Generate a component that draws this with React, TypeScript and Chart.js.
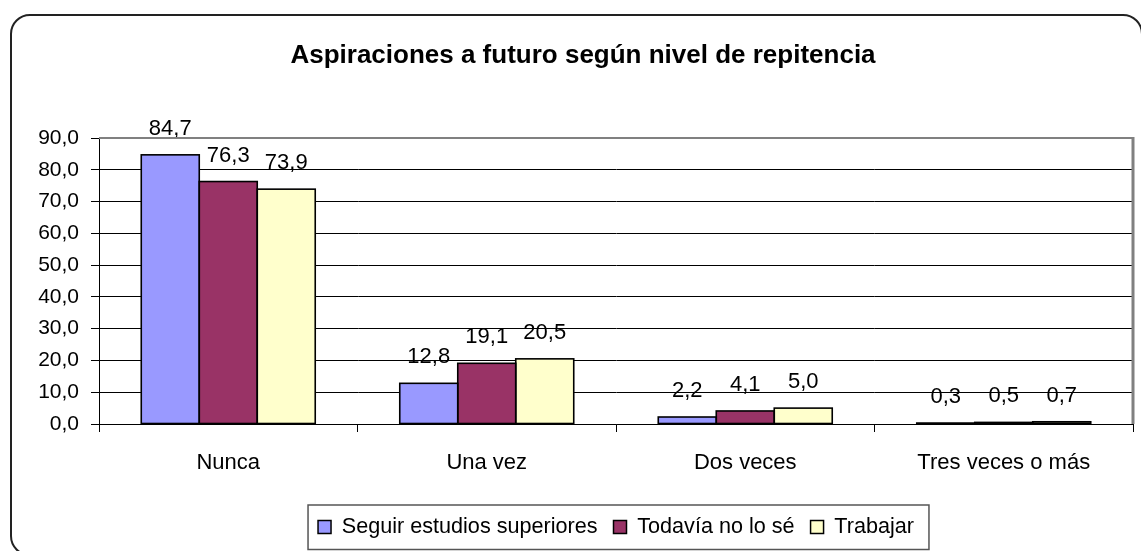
import React, { useEffect, useRef } from 'react';
import { Chart, registerables } from 'chart.js';

Chart.register(...registerables);

const TITLE = 'Aspiraciones a futuro según nivel de repitencia';
const categories = ['Nunca', 'Una vez', 'Dos veces', 'Tres veces o más'];
const seriesNames = ['Seguir estudios superiores', 'Todavía no lo sé', 'Trabajar'];
const seguirEstudios = [84.7, 12.8, 2.2, 0.3];
const todaviaNoSe = [76.3, 19.1, 4.1, 0.5];
const trabajar = [73.9, 20.5, 5.0, 0.7];
const seriesColors = ['#9999FF', '#993366', '#FFFFCC'];
const yMin = 0;
const yMax = 90;
const yStep = 10;

const FAMILY = "'Liberation Sans', Arial, Helvetica, sans-serif";
const CANVAS_LEFT = 33;
const CANVAS_W = 1141 - CANVAS_LEFT;
const CANVAS_H = 551;
const BAR_BORDER = 1.6;

const fmt = (v: number) => v.toFixed(1).replace('.', ',');

const barOutlinePlugin = {
  id: 'barOutline',
  afterDatasetsDraw(chart: any) {
    const ctx = chart.ctx;
    ctx.save();
    ctx.strokeStyle = '#000';
    ctx.lineWidth = BAR_BORDER;
    chart.data.datasets.forEach((_ds: any, di: number) => {
      const meta = chart.getDatasetMeta(di);
      meta.data.forEach((el: any) => {
        const p = el.getProps(['x', 'y', 'base', 'width'], true);
        const left = p.x - p.width / 2;
        const top = Math.min(p.y, p.base);
        const h = Math.abs(p.base - p.y);
        ctx.strokeRect(left, top, p.width, h);
      });
    });
    ctx.restore();
  },
};

const dataLabelPlugin = {
  id: 'dataLabels',
  afterDatasetsDraw(chart: any) {
    const ctx = chart.ctx;
    ctx.save();
    ctx.font = `22px ${FAMILY}`;
    ctx.fillStyle = '#000';
    ctx.textAlign = 'center';
    ctx.textBaseline = 'middle';
    chart.data.datasets.forEach((ds: any, di: number) => {
      const meta = chart.getDatasetMeta(di);
      meta.data.forEach((el: any, i: number) => {
        ctx.fillText(fmt(ds.data[i]), el.x, el.y - 26);
      });
    });
    ctx.restore();
  },
};

const framePlugin = {
  id: 'frame',
  afterDraw(chart: any) {
    const ctx = chart.ctx;
    const a = chart.chartArea;
    ctx.save();
    ctx.strokeStyle = '#808080';
    ctx.lineWidth = 2;
    ctx.beginPath();
    ctx.moveTo(a.left, a.top);
    ctx.lineTo(a.right, a.top);
    ctx.stroke();
    ctx.lineWidth = 3;
    ctx.beginPath();
    ctx.moveTo(a.right, a.top - 1);
    ctx.lineTo(a.right, a.bottom);
    ctx.stroke();
    const hb = chart.legend && chart.legend.legendHitBoxes;
    if (hb && hb.length) {
      const first = hb[0];
      const last = hb[hb.length - 1];
      const cy = first.top + first.height / 2;
      const x0 = first.left - 10;
      const x1 = last.left + last.width + 15;
      const y0 = cy - 22;
      const y1 = cy + 22.5;
      ctx.strokeStyle = '#555';
      ctx.lineWidth = 1.5;
      ctx.strokeRect(x0, y0, x1 - x0, y1 - y0);
    }
    ctx.restore();
  },
};

export default function App() {
  const ref = useRef<HTMLCanvasElement>(null);

  useEffect(() => {
    const canvas = ref.current;
    if (!canvas) return;
    const values = [seguirEstudios, todaviaNoSe, trabajar];
    const chart = new Chart(canvas, {
      type: 'bar',
      data: {
        labels: categories,
        datasets: seriesNames.map((name, i) => ({
          label: name,
          data: values[i],
          backgroundColor: seriesColors[i],
          borderColor: '#000',
          borderWidth: 0,
          categoryPercentage: 0.673,
          barPercentage: 1,
        })),
      },
      options: {
        responsive: false,
        animation: false,
        devicePixelRatio: 1,
        layout: { padding: { left: 0, right: 8, top: 0, bottom: 3.2 } },
        plugins: {
          title: {
            display: true,
            text: TITLE,
            color: '#000',
            font: { family: FAMILY, size: 26, weight: 'bold' },
            padding: { top: 40.4, bottom: 66.4 },
          },
          legend: {
            position: 'bottom',
            fullSize: false,
            labels: {
              color: '#000',
              font: { family: FAMILY, size: 21.6 },
              boxWidth: 13,
              boxHeight: 13,
              padding: 16,
              generateLabels: (chart: any) =>
                chart.data.datasets.map((ds: any, i: number) => ({
                  text: ds.label,
                  fillStyle: ds.backgroundColor,
                  strokeStyle: '#000',
                  lineWidth: 1.5,
                  fontColor: '#000',
                  hidden: false,
                  datasetIndex: i,
                })),
            },
          },
          tooltip: { enabled: false },
        },
        scales: {
          x: {
            grid: {
              display: true,
              drawOnChartArea: false,
              drawTicks: true,
              tickLength: 8,
              color: '#000',
              offset: true,
            },
            border: { display: true, color: '#000', width: 1 },
            ticks: { color: '#000', font: { family: FAMILY, size: 22 }, padding: 17.8 },
            afterFit: (s: any) => {
              s.height = 76.2;
            },
          },
          y: {
            min: yMin,
            max: yMax,
            grid: { color: '#000', tickLength: 8, lineWidth: 1 },
            border: { display: true, color: '#000', width: 1 },
            ticks: {
              stepSize: yStep,
              color: '#000',
              font: { family: FAMILY, size: 21 },
              padding: 12,
              callback: (v: any) => fmt(Number(v)),
            },
            afterFit: (s: any) => {
              s.width = 99 - CANVAS_LEFT;
            },
          },
        },
      } as any,
      plugins: [barOutlinePlugin, dataLabelPlugin, framePlugin],
    });
    return () => chart.destroy();
  }, []);

  return (
    <div
      style={{
        position: 'fixed',
        left: 0,
        top: 0,
        width: 1141,
        height: 551,
        overflow: 'hidden',
        background: '#fff',
      }}
    >
      <div
        style={{
          position: 'absolute',
          left: 10,
          top: 14,
          width: 1133,
          height: 542,
          border: '2px solid #222',
          borderRadius: '20px 20px 4px 20px',
          boxSizing: 'border-box',
        }}
      />
      <canvas
        ref={ref}
        width={CANVAS_W}
        height={CANVAS_H}
        style={{ position: 'absolute', left: CANVAS_LEFT, top: 0, width: CANVAS_W, height: CANVAS_H }}
      />
    </div>
  );
}
